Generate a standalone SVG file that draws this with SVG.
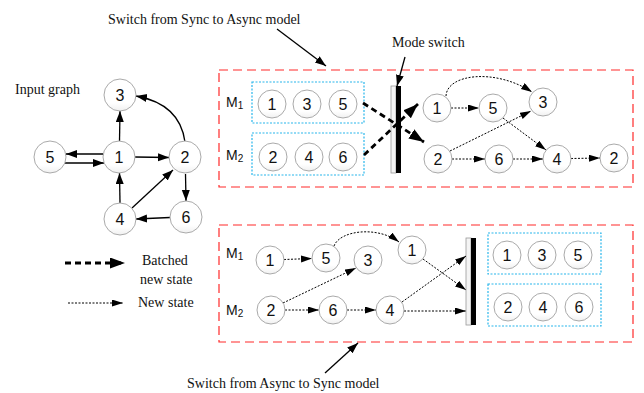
<svg xmlns="http://www.w3.org/2000/svg" width="644" height="393" viewBox="0 0 644 393">
  <defs>
    <linearGradient id="nodeFill" x1="0" y1="0" x2="0" y2="1">
      <stop offset="0" stop-color="#ffffff"/>
      <stop offset="0.75" stop-color="#ffffff"/>
      <stop offset="1" stop-color="#f0f0f0"/>
    </linearGradient>
    <marker id="solidHead" markerUnits="userSpaceOnUse" markerWidth="12" markerHeight="10" refX="11" refY="4" orient="auto">
      <path d="M0,0 L11,4 L0,8 Z" fill="#000"/>
    </marker>
    <marker id="dotHead" markerUnits="userSpaceOnUse" markerWidth="12" markerHeight="10" refX="11" refY="3.5" orient="auto">
      <path d="M0,0 L11,3.5 L0,7 Z" fill="#000"/>
    </marker>
    <marker id="bigHead" markerUnits="userSpaceOnUse" markerWidth="16" markerHeight="12" refX="15" refY="5.5" orient="auto">
      <path d="M0,0 L15,5.5 L0,11 Z" fill="#000"/>
    </marker>
  </defs>
  <style>
    .node circle { fill: url(#nodeFill); stroke: #aaaaaa; stroke-width: 1; }
    .node text { font-family: "Liberation Sans", Arial, sans-serif; font-size: 16px; fill: #111; text-anchor: middle; }
    .lbl { font-family: "Liberation Serif", "Times New Roman", serif; font-size: 14px; fill: #111; }
    .mlbl { font-family: "Liberation Sans", Arial, sans-serif; font-size: 14px; fill: #111; }
    .mlbl tspan.sub { font-size: 10px; }
    .solid { fill: none; stroke: #000; stroke-width: 1.3; marker-end: url(#solidHead); }
    .dot { fill: none; stroke: #000; stroke-width: 1; stroke-dasharray: 2 1.5; marker-end: url(#dotHead); }
    .batch { fill: none; stroke: #000; stroke-width: 2.8; stroke-dasharray: 6 4; marker-end: url(#bigHead); }
    .frame { fill: none; stroke: #ff2a2a; stroke-width: 1.2; stroke-dasharray: 9 5; }
    .group { fill: none; stroke: #29b6ec; stroke-width: 1.2; stroke-dasharray: 2 1.5; }
  </style>

  <!-- captions -->
  <text class="lbl" x="108" y="24">Switch from Sync to Async model</text>
  <text class="lbl" x="392" y="47">Mode switch</text>
  <text class="lbl" x="15" y="94">Input graph</text>
  <text class="lbl" x="142" y="265">Batched</text>
  <text class="lbl" x="140" y="284">new state</text>
  <text class="lbl" x="138" y="307">New state</text>
  <text class="lbl" x="187" y="388">Switch from Async to Sync model</text>

  <!-- frames -->
  <rect class="frame" x="219" y="70" width="414" height="117"/>
  <rect class="frame" x="219" y="225" width="414" height="117"/>
  <rect class="group" x="252" y="82" width="112" height="41"/>
  <rect class="group" x="252" y="133" width="112" height="42"/>
  <rect class="group" x="488" y="233" width="113" height="41"/>
  <rect class="group" x="488" y="284" width="113" height="42"/>

  <!-- machine labels -->
  <text class="mlbl" x="226" y="107">M<tspan class="sub" dy="2">1</tspan></text>
  <text class="mlbl" x="226" y="160">M<tspan class="sub" dy="2">2</tspan></text>
  <text class="mlbl" x="226" y="258">M<tspan class="sub" dy="2">1</tspan></text>
  <text class="mlbl" x="226" y="315">M<tspan class="sub" dy="2">2</tspan></text>

  <!-- mode switch bars -->
  <g id="bar-top">
    <rect x="391" y="86" width="5" height="87" fill="#f4f4f4" stroke="#9a9a9a" stroke-width="0.8"/>
    <rect x="396" y="86" width="5" height="87" fill="#000"/>
  </g>
  <g id="bar-bottom">
    <rect x="466" y="238" width="5" height="87" fill="#f4f4f4" stroke="#9a9a9a" stroke-width="0.8"/>
    <rect x="471" y="238" width="5" height="87" fill="#000"/>
  </g>

  <!-- connectors -->
  <g id="connectors">
    <!-- annotation pointers -->
    <path class="solid" d="M277,29 L326,66"/>
    <path class="solid" d="M405,57 L397,86"/>
    <path class="solid" d="M325,373 L358,343"/>

    <!-- input graph -->
    <path class="solid" d="M119.5,141 L120,111"/>
    <path class="solid" d="M185,142 Q180,104 136,96"/>
    <path class="solid" d="M103,154 L66,154"/>
    <path class="solid" d="M64,163 L104,163"/>
    <path class="solid" d="M135,157 L169,157.5"/>
    <path class="solid" d="M120,203 L119.5,173"/>
    <path class="solid" d="M132,208 L173,170"/>
    <path class="solid" d="M185.5,174 L186,201"/>
    <path class="solid" d="M170,217.5 L136,219"/>

    <!-- legend -->
    <path class="batch" d="M65,263 L125,263"/>
    <path class="dot" d="M68,303 L123,303"/>

    <!-- sync to async -->
    <path class="batch" d="M363,103 L424,142"/>
    <path class="batch" d="M364,155 L418,104"/>
    <path class="dot" d="M446,96 C447,74 495,68 532,92"/>
    <path class="dot" d="M451,108 L479,108"/>
    <path class="dot" d="M503,118 L546,150"/>
    <path class="dot" d="M450,151 L531,111"/>
    <path class="dot" d="M452,159 L485,159"/>
    <path class="dot" d="M513,159 L543,159"/>
    <path class="dot" d="M571,158.5 L600,158"/>

    <!-- async to sync -->
    <path class="dot" d="M284,259.5 L312,258.5"/>
    <path class="dot" d="M334,246 C340,230 378,226 399,242"/>
    <path class="dot" d="M283,303 L356,268"/>
    <path class="dot" d="M285,310 L319,310"/>
    <path class="dot" d="M347,310 L376,310"/>
    <path class="dot" d="M402,302 L466,256"/>
    <path class="dot" d="M423,259 L466,290"/>
    <path class="dot" d="M404,311 L466,311"/>
  </g>

  <!-- input graph nodes -->
  <g id="g-3" class="node"><circle cx="120" cy="95" r="16"/><text x="120" y="100.5">3</text></g>
  <g id="g-5" class="node"><circle cx="50" cy="157" r="16"/><text x="50" y="162.5">5</text></g>
  <g id="g-1" class="node"><circle cx="119" cy="157" r="16"/><text x="119" y="162.5">1</text></g>
  <g id="g-2" class="node"><circle cx="185" cy="157" r="16"/><text x="185" y="162.5">2</text></g>
  <g id="g-4" class="node"><circle cx="120" cy="219" r="16"/><text x="120" y="224.5">4</text></g>
  <g id="g-6" class="node"><circle cx="186" cy="217" r="16"/><text x="186" y="222.5">6</text></g>

  <!-- sync batches (top) -->
  <g id="s-m1-1" class="node"><circle cx="272" cy="104" r="14"/><text x="272" y="109.5">1</text></g>
  <g id="s-m1-3" class="node"><circle cx="307" cy="104" r="14"/><text x="307" y="109.5">3</text></g>
  <g id="s-m1-5" class="node"><circle cx="343" cy="104" r="14"/><text x="343" y="109.5">5</text></g>
  <g id="s-m2-2" class="node"><circle cx="273" cy="157" r="14"/><text x="273" y="162.5">2</text></g>
  <g id="s-m2-4" class="node"><circle cx="309" cy="157" r="14"/><text x="309" y="162.5">4</text></g>
  <g id="s-m2-6" class="node"><circle cx="343" cy="157" r="14"/><text x="343" y="162.5">6</text></g>

  <!-- async run (top) -->
  <g id="a-1" class="node"><circle cx="437" cy="108" r="14"/><text x="437" y="113.5">1</text></g>
  <g id="a-5" class="node"><circle cx="493" cy="108" r="14"/><text x="493" y="113.5">5</text></g>
  <g id="a-3" class="node"><circle cx="543" cy="102" r="14"/><text x="543" y="107.5">3</text></g>
  <g id="a-2" class="node"><circle cx="438" cy="159" r="14"/><text x="438" y="164.5">2</text></g>
  <g id="a-6" class="node"><circle cx="499" cy="159" r="14"/><text x="499" y="164.5">6</text></g>
  <g id="a-4" class="node"><circle cx="557" cy="159" r="14"/><text x="557" y="164.5">4</text></g>
  <g id="a-2b" class="node"><circle cx="614" cy="158" r="14"/><text x="614" y="163.5">2</text></g>

  <!-- async run (bottom) -->
  <g id="b-1" class="node"><circle cx="270" cy="260" r="14"/><text x="270" y="265.5">1</text></g>
  <g id="b-5" class="node"><circle cx="326" cy="258" r="14"/><text x="326" y="263.5">5</text></g>
  <g id="b-3" class="node"><circle cx="368" cy="260" r="14"/><text x="368" y="265.5">3</text></g>
  <g id="b-1b" class="node"><circle cx="412" cy="250" r="14"/><text x="412" y="255.5">1</text></g>
  <g id="b-2" class="node"><circle cx="271" cy="310" r="14"/><text x="271" y="315.5">2</text></g>
  <g id="b-6" class="node"><circle cx="333" cy="310" r="14"/><text x="333" y="315.5">6</text></g>
  <g id="b-4" class="node"><circle cx="390" cy="310" r="14"/><text x="390" y="315.5">4</text></g>

  <!-- sync batches (bottom) -->
  <g id="t-m1-1" class="node"><circle cx="507" cy="255" r="14"/><text x="507" y="260.5">1</text></g>
  <g id="t-m1-3" class="node"><circle cx="542" cy="255" r="14"/><text x="542" y="260.5">3</text></g>
  <g id="t-m1-5" class="node"><circle cx="578" cy="255" r="14"/><text x="578" y="260.5">5</text></g>
  <g id="t-m2-2" class="node"><circle cx="508" cy="307" r="14"/><text x="508" y="312.5">2</text></g>
  <g id="t-m2-4" class="node"><circle cx="543" cy="307" r="14"/><text x="543" y="312.5">4</text></g>
  <g id="t-m2-6" class="node"><circle cx="579" cy="307" r="14"/><text x="579" y="312.5">6</text></g>
</svg>
